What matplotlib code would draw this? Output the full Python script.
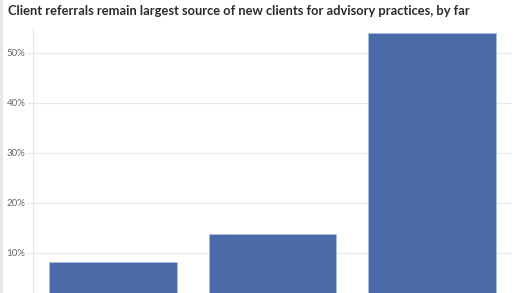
import matplotlib.pyplot as plt
from matplotlib.lines import Line2D

# data (bottom of the chart is cropped in the reference)
categories = ['Other sources', 'Center of influence referrals', 'Client referrals']
shares = [8.2, 13.8, 54.0]
tick_values = [10, 20, 30, 40, 50]
tick_labels = ['10%', '20%', '30%', '40%', '50%']

plt.rcParams['font.family'] = ['Lato', 'DejaVu Sans']

fig = plt.figure(figsize=(5.2, 2.93), dpi=100)
W, H = 520, 293
# axes extend below the figure so that zero is cropped off like the original
left, right, top, bottom = 33, 512, 28, 303
ax = fig.add_axes([left / W, (H - bottom) / H, (right - left) / W, (bottom - top) / H])

x = range(len(categories))
ax.bar(x, shares, width=0.8, color='#4a6aa8', edgecolor='#a9bde0', linewidth=0.6, zorder=3)

ax.set_xlim(-0.5, 2.5)
ax.set_ylim(0, 55)
ax.set_yticks(tick_values)
ax.set_yticklabels(tick_labels)
ax.set_xticks(list(x))
ax.set_xticklabels(categories)
ax.tick_params(axis='y', length=4, width=0.8, color='#e8e8e8', pad=1.5, labelsize=7, labelcolor='#666666')
ax.tick_params(axis='x', length=0, labelbottom=False)
ax.grid(axis='y', color='#e8e8e8', linewidth=0.8, zorder=0)

for s in ['top', 'right', 'bottom']:
    ax.spines[s].set_visible(False)
ax.spines['left'].set_color('#e6e6e6')
ax.spines['left'].set_linewidth(0.8)

# thin border on left edge
fig.add_artist(Line2D([1 / W, 1 / W], [0, 1], color='#e6e6e6', linewidth=2))

fig.text(8 / W, 1 - 11 / H, 'Client referrals remain largest source of new clients for advisory practices, by far',
         fontsize=9.3, fontweight='bold', color='#2b2b2b', va='center', ha='left')

fig.savefig('out.png', dpi=100)
